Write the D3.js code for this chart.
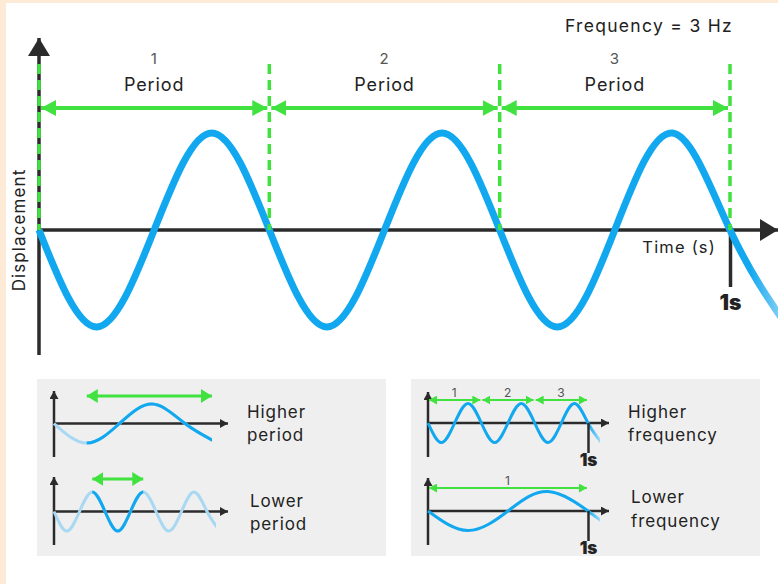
<!DOCTYPE html>
<html lang="en">
<head>
<meta charset="UTF-8" />
<title>Frequency and Period</title>
<script src="https://cdn.jsdelivr.net/npm/d3@7"></script>
<style>
  body { margin: 0; background: #fdebd8; }
  svg { display: block; }
  text { font-family: "Inter", "Open Sans", sans-serif; fill: #222; letter-spacing: 0.9px; }
</style>
</head>
<body>
<div id="chart"></div>
<script>
// main wave: time (s) vs displacement, read at quarter periods
const waveTime = [0, 0.0833, 0.1667, 0.25, 0.3333, 0.4167, 0.5, 0.5833, 0.6667, 0.75, 0.8333, 0.9167, 1, 1.0833];
const waveDisp = [0, -1, 0, 1, 0, -1, 0, 1, 0, -1, 0, 1, 0, -1];
const periodEdges = [0, 0.3333, 0.6667, 1];
const periodNums = ["1", "2", "3"];

// small panels (time in periods for the left ones, seconds for the right ones)
const hpTime = [0, 0.25, 0.5, 0.75, 1, 1.25];
const hpDisp = [0, -1, 0, 1, 0, -1];
const hpDark = [0.25, 1.25];
const lpTime = [0, 0.25, 0.5, 0.75, 1, 1.25, 1.5, 1.75, 2, 2.25, 2.5, 2.75, 3, 3.25];
const lpDisp = [0, -1, 0, 1, 0, -1, 0, 1, 0, -1, 0, 1, 0, -1];
const lpDark = [0.75, 1.75];
const hfTime = waveTime;
const hfDisp = waveDisp;
const lfTime = [0, 0.25, 0.5, 0.75, 1, 1.0833];
const lfDisp = [0, -1, 0, 1, 0, -0.5];
const lfEdges = [0, 1];
const lfNums = ["1"];

const W = 778, H = 584;
const BLUE = "#12a8ef", LIGHT = "#a9d9f2", GREEN = "#41e23f", AXIS = "#2b2b2b";

const svg = d3.select("#chart").append("svg").attr("width", W).attr("height", H);
svg.append("rect").attr("x", 6).attr("y", 3).attr("width", W - 6).attr("height", H - 3).attr("fill", "#fff");

const defs = svg.append("defs");
function arrowMarker(id, color, len, half) {
  defs.append("marker").attr("id", id)
    .attr("markerUnits", "userSpaceOnUse")
    .attr("viewBox", `0 ${-half} ${len} ${half * 2}`)
    .attr("refX", len).attr("refY", 0)
    .attr("markerWidth", len).attr("markerHeight", half * 2)
    .attr("orient", "auto-start-reverse")
    .append("path").attr("d", `M0,${-half}L${len},0L0,${half}Z`).attr("fill", color);
}
arrowMarker("bigAx", AXIS, 18, 11);
arrowMarker("bigGreen", GREEN, 15, 8);
arrowMarker("smAx", AXIS, 8, 4.5);
arrowMarker("midGreen", GREEN, 11, 7);
arrowMarker("smGreen", GREEN, 8, 4.5);

const grad = defs.append("linearGradient").attr("id", "fade")
  .attr("gradientUnits", "userSpaceOnUse").attr("x1", 750).attr("x2", 780).attr("y1", 0).attr("y2", 0);
grad.append("stop").attr("offset", 0).attr("stop-color", BLUE);
grad.append("stop").attr("offset", 1).attr("stop-color", "#7fcff6");
const grad2 = defs.append("linearGradient").attr("id", "fadeSm")
  .attr("gradientUnits", "userSpaceOnUse").attr("x1", 588).attr("x2", 600).attr("y1", 0).attr("y2", 0);
grad2.append("stop").attr("offset", 0).attr("stop-color", BLUE);
grad2.append("stop").attr("offset", 1).attr("stop-color", "#9fdcfa");

// ---------- main chart ----------
const x = d3.scaleLinear([0, 1], [39, 730]);
const y = d3.scaleLinear([-1, 1], [327, 133]);
const y0 = y(0);

svg.append("text").attr("x", 733).attr("y", 32).attr("text-anchor", "end")
  .style("font-size", "17.5px").style("letter-spacing", "1.3px").text("Frequency = 3 Hz");

// axes
svg.append("line").attr("x1", x(0)).attr("x2", x(0)).attr("y1", 355).attr("y2", 38)
  .attr("stroke", AXIS).attr("stroke-width", 3.5).attr("marker-end", "url(#bigAx)");
svg.append("line").attr("x1", x(0)).attr("x2", W).attr("y1", y0).attr("y2", y0)
  .attr("stroke", AXIS).attr("stroke-width", 3.5).attr("marker-end", "url(#bigAx)");

const xAxis = svg.append("g").attr("transform", `translate(0,${y0})`)
  .call(d3.axisBottom(x).tickValues([1]).tickSize(57).tickPadding(8).tickFormat(() => "1s"));
xAxis.select(".domain").remove();
xAxis.selectAll(".tick line").attr("stroke", AXIS).attr("stroke-width", 3.5);
xAxis.selectAll(".tick text").attr("fill", "#111").style("font-size", "21px")
  .style("font-weight", "900").style("font-family", "Inter, sans-serif").style("letter-spacing", "0px");

svg.append("text").attr("x", 716).attr("y", 253).attr("text-anchor", "end")
  .style("font-size", "16.5px").style("letter-spacing", "1.2px").text("Time (s)");
svg.append("text").attr("transform", `translate(25,230) rotate(-90)`).attr("text-anchor", "middle")
  .style("font-size", "17px").style("letter-spacing", "1.1px").text("Displacement");

// wave
const line = d3.line().x((d, i) => x(waveTime[i])).y(d => y(d)).curve(d3.curveNatural);
svg.append("clipPath").attr("id", "mainClip").append("rect")
  .attr("x", 0).attr("y", 0).attr("width", W).attr("height", H);
svg.append("path").attr("d", line(waveDisp)).attr("fill", "none")
  .attr("stroke", "url(#fade)").attr("stroke-width", 7).attr("clip-path", "url(#mainClip)");

// period markers
svg.selectAll(".pdash").data(periodEdges).enter().append("line")
  .attr("x1", d => x(d)).attr("x2", d => x(d)).attr("y1", 64).attr("y2", y0)
  .attr("stroke", GREEN).attr("stroke-width", 3.5).attr("stroke-dasharray", "10,6");
svg.selectAll(".parrow").data(periodNums).enter().append("line")
  .attr("x1", (d, i) => x(periodEdges[i]) + 2).attr("x2", (d, i) => x(periodEdges[i + 1]) - 2)
  .attr("y1", 108).attr("y2", 108)
  .attr("stroke", GREEN).attr("stroke-width", 4)
  .attr("marker-start", "url(#bigGreen)").attr("marker-end", "url(#bigGreen)");
svg.selectAll(".pnum").data(periodNums).enter().append("text")
  .attr("x", (d, i) => (x(periodEdges[i]) + x(periodEdges[i + 1])) / 2).attr("y", 64)
  .attr("text-anchor", "middle").style("font-size", "15px").style("fill", "#555").text(d => d);
svg.selectAll(".plabel").data(periodNums).enter().append("text")
  .attr("x", (d, i) => (x(periodEdges[i]) + x(periodEdges[i + 1])) / 2).attr("y", 91)
  .attr("text-anchor", "middle").style("font-size", "18px").text("Period");

// ---------- small panels ----------
svg.append("rect").attr("x", 37).attr("y", 379).attr("width", 349).attr("height", 177).attr("fill", "#efefef");
svg.append("rect").attr("x", 411).attr("y", 379).attr("width", 349).attr("height", 177).attr("fill", "#efefef");

let clipId = 0;
function mini(times, disps, domain, range, yMid, axTop, axBottom, axRight, clipX) {
  const sx = d3.scaleLinear(domain, range);
  const sy = d3.scaleLinear([-1, 1], [yMid + 19.5, yMid - 19.5]);
  const g = svg.append("g");
  g.append("line").attr("x1", range[0]).attr("x2", range[0]).attr("y1", axBottom).attr("y2", axTop)
    .attr("stroke", AXIS).attr("stroke-width", 2.5).attr("marker-end", "url(#smAx)");
  g.append("line").attr("x1", range[0]).attr("x2", axRight).attr("y1", yMid).attr("y2", yMid)
    .attr("stroke", AXIS).attr("stroke-width", 2.5).attr("marker-end", "url(#smAx)");
  const id = "mc" + (clipId++);
  svg.append("clipPath").attr("id", id).append("rect")
    .attr("x", clipX[0]).attr("y", 0).attr("width", clipX[1] - clipX[0]).attr("height", H);
  const ln = d3.line().x((d, i) => sx(times[i])).y(d => sy(d)).curve(d3.curveNatural);
  return { g, sx, sy, ln, id };
}

// higher period
const hp = mini(hpTime, hpDisp, [0, 1], [54, 185], 423.5, 391, 457, 228, [0, 212]);
hp.g.append("path").attr("d", hp.ln(hpDisp)).attr("fill", "none").attr("stroke", LIGHT)
  .attr("stroke-width", 3).attr("clip-path", `url(#${hp.id})`);
svg.append("clipPath").attr("id", "hpDark").append("rect")
  .attr("x", hp.sx(hpDark[0])).attr("y", 0).attr("width", 212 - hp.sx(hpDark[0])).attr("height", H);
hp.g.append("path").attr("d", hp.ln(hpDisp)).attr("fill", "none").attr("stroke", BLUE)
  .attr("stroke-width", 3).attr("clip-path", "url(#hpDark)");
hp.g.append("line").attr("x1", hp.sx(hpDark[0])).attr("x2", 212).attr("y1", 396).attr("y2", 396)
  .attr("stroke", GREEN).attr("stroke-width", 3)
  .attr("marker-start", "url(#midGreen)").attr("marker-end", "url(#midGreen)");

// lower period
const lp = mini(lpTime, lpDisp, [0, 1], [54, 105], 511.5, 477, 545, 228, [0, 216]);
lp.g.append("path").attr("d", lp.ln(lpDisp)).attr("fill", "none").attr("stroke", LIGHT)
  .attr("stroke-width", 3).attr("clip-path", `url(#${lp.id})`);
svg.append("clipPath").attr("id", "lpDark").append("rect")
  .attr("x", lp.sx(lpDark[0])).attr("y", 0).attr("width", lp.sx(lpDark[1]) - lp.sx(lpDark[0])).attr("height", H);
lp.g.append("path").attr("d", lp.ln(lpDisp)).attr("fill", "none").attr("stroke", BLUE)
  .attr("stroke-width", 3).attr("clip-path", "url(#lpDark)");
lp.g.append("line").attr("x1", lp.sx(lpDark[0])).attr("x2", lp.sx(lpDark[1])).attr("y1", 479).attr("y2", 479)
  .attr("stroke", GREEN).attr("stroke-width", 3)
  .attr("marker-start", "url(#midGreen)").attr("marker-end", "url(#midGreen)");

// higher / lower frequency
function freqPanel(times, disps, yMid, axTop, axBottom, edges, nums, arrowY) {
  const p = mini(times, disps, [0, 1], [428, 588], yMid, axTop, axBottom, 609, [0, 600]);
  p.g.append("path").attr("d", p.ln(disps)).attr("fill", "none").attr("stroke", "url(#fadeSm)")
    .attr("stroke-width", 3).attr("clip-path", `url(#${p.id})`);
  const ax = p.g.append("g").attr("transform", `translate(0,${yMid})`)
    .call(d3.axisBottom(p.sx).tickValues([1]).tickSize(30).tickPadding(1).tickFormat(() => "1s"));
  ax.select(".domain").remove();
  ax.selectAll(".tick line").attr("stroke", AXIS).attr("stroke-width", 2.5);
  ax.selectAll(".tick text").attr("fill", "#111").style("font-size", "17px")
    .style("font-weight", "900").style("font-family", "Inter, sans-serif").style("letter-spacing", "0px");
  p.g.selectAll(".fa").data(nums).enter().append("line")
    .attr("x1", (d, i) => p.sx(edges[i]) + 1).attr("x2", (d, i) => p.sx(edges[i + 1]) - 1)
    .attr("y1", arrowY).attr("y2", arrowY)
    .attr("stroke", GREEN).attr("stroke-width", 2)
    .attr("marker-start", "url(#smGreen)").attr("marker-end", "url(#smGreen)");
  p.g.selectAll(".fn").data(nums).enter().append("text")
    .attr("x", (d, i) => (p.sx(edges[i]) + p.sx(edges[i + 1])) / 2).attr("y", arrowY - 3)
    .attr("text-anchor", "middle").style("font-size", "12px").style("fill", "#555").text(d => d);
}
freqPanel(hfTime, hfDisp, 423, 392, 457, periodEdges, periodNums, 400);
freqPanel(lfTime, lfDisp, 511, 478, 545, lfEdges, lfNums, 488);

// panel captions
const captions = [
  ["Higher", 247, 418], ["period", 247, 441], ["Lower", 250, 507], ["period", 250, 530],
  ["Higher", 628, 418], ["frequency", 628, 441], ["Lower", 631, 503], ["frequency", 631, 527]
];
svg.selectAll(".cap").data(captions).enter().append("text")
  .attr("x", d => d[1]).attr("y", d => d[2]).style("font-size", "17px").text(d => d[0]);
</script>
</body>
</html>
